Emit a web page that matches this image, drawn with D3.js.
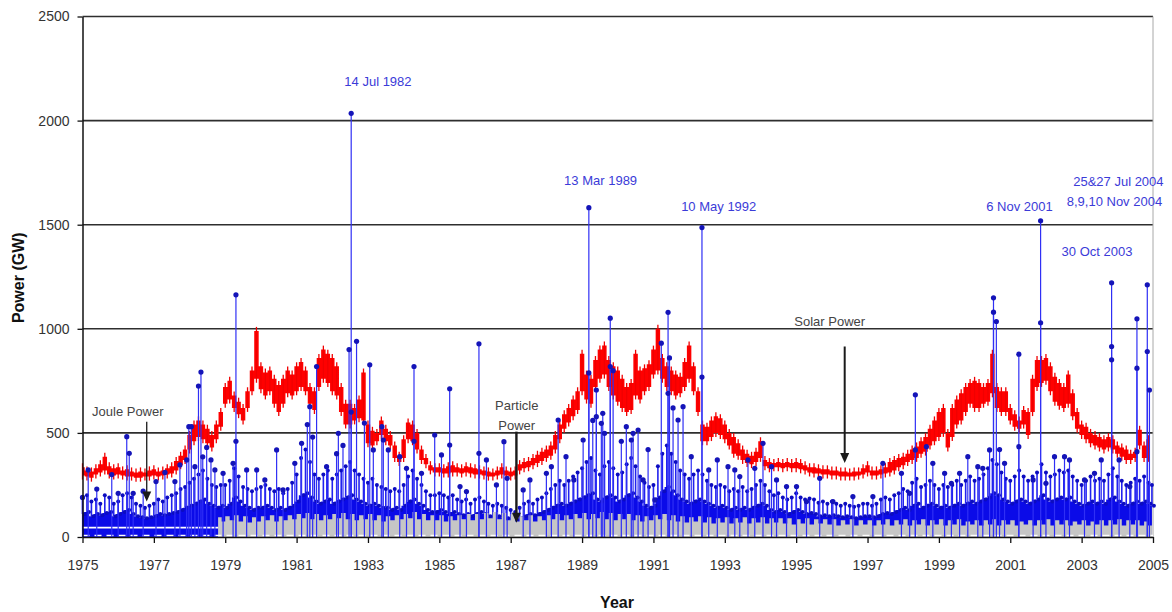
<!DOCTYPE html>
<html>
<head>
<meta charset="utf-8">
<script src="https://cdn.jsdelivr.net/npm/d3@7/dist/d3.min.js"></script>
<style>
  html, body { margin: 0; padding: 0; background: #fff; }
  svg { display: block; font-family: "Liberation Sans", Arial, sans-serif; }
</style>
</head>
<body>
<svg id="chart" width="1172" height="612"></svg>
<script>
// ---- data -------------------------------------------------------------
const yearTicks = [1975, 1977, 1979, 1981, 1983, 1985, 1987, 1989, 1991, 1993, 1995, 1997, 1999, 2001, 2003, 2005];
const powerTicks = [0, 500, 1000, 1500, 2000, 2500];

// Solar power band: [year, lower edge GW, upper edge GW]
const solarPower = [
  [1975.000,295,335],[1975.125,290,320],[1975.250,285,315],[1975.375,300,330],[1975.500,310,350],[1975.625,320,385],[1975.750,300,340],[1975.875,295,330],
  [1976.000,300,335],[1976.125,295,320],[1976.250,290,325],[1976.375,290,315],[1976.500,285,310],[1976.625,285,315],[1976.750,290,310],[1976.875,290,320],
  [1977.000,295,325],[1977.125,290,315],[1977.250,295,320],[1977.375,300,330],[1977.500,305,340],[1977.625,320,365],[1977.750,345,390],[1977.875,370,420],
  [1978.000,420,490],[1978.125,460,540],[1978.250,480,560],[1978.375,470,540],[1978.500,450,520],[1978.625,430,490],[1978.750,470,540],[1978.875,530,600],
  [1979.000,640,720],[1979.125,660,750],[1979.250,620,680],[1979.375,590,650],[1979.500,560,620],[1979.625,620,700],[1979.750,700,800],[1979.875,760,990],
  [1980.000,710,820],[1980.125,680,790],[1980.250,700,800],[1980.375,640,760],[1980.500,600,730],[1980.625,640,760],[1980.750,690,800],[1980.875,680,780],
  [1981.000,700,820],[1981.125,720,840],[1981.250,700,800],[1981.375,640,720],[1981.500,610,700],[1981.625,720,860],[1981.750,760,900],[1981.875,740,880],
  [1982.000,700,860],[1982.125,680,820],[1982.250,600,720],[1982.375,540,640],[1982.500,540,640],[1982.625,560,620],[1982.750,570,660],[1982.875,560,790],
  [1983.000,450,540],[1983.125,440,510],[1983.250,460,500],[1983.375,490,560],[1983.500,460,520],[1983.625,440,490],[1983.750,380,440],[1983.875,360,390],
  [1984.000,380,470],[1984.125,470,550],[1984.250,460,540],[1984.375,420,500],[1984.500,370,420],[1984.625,350,380],[1984.750,320,345],[1984.875,310,335],
  [1985.000,310,335],[1985.125,305,330],[1985.250,305,340],[1985.375,310,345],[1985.500,310,335],[1985.625,305,330],[1985.750,310,340],[1985.875,305,335],
  [1986.000,300,330],[1986.125,300,325],[1986.250,295,320],[1986.375,290,315],[1986.500,290,310],[1986.625,295,320],[1986.750,300,335],[1986.875,295,320],
  [1987.000,290,315],[1987.125,295,320],[1987.250,320,350],[1987.375,330,360],[1987.500,335,365],[1987.625,345,380],[1987.750,355,395],[1987.875,365,410],
  [1988.000,380,420],[1988.125,390,440],[1988.250,420,490],[1988.375,470,540],[1988.500,520,590],[1988.625,550,620],[1988.750,580,660],[1988.875,610,700],
  [1989.000,700,880],[1989.125,660,780],[1989.250,640,760],[1989.375,720,850],[1989.500,760,900],[1989.625,780,920],[1989.750,720,850],[1989.875,680,820],
  [1990.000,650,800],[1990.125,620,760],[1990.250,600,720],[1990.375,610,740],[1990.500,680,880],[1990.625,660,800],[1990.750,700,810],[1990.875,720,830],
  [1991.000,780,900],[1991.125,800,1000],[1991.250,760,860],[1991.375,720,820],[1991.500,700,800],[1991.625,680,780],[1991.750,690,770],[1991.875,720,840],
  [1992.000,760,920],[1992.125,700,820],[1992.250,600,700],[1992.375,460,540],[1992.500,460,530],[1992.625,480,560],[1992.750,500,580],[1992.875,490,570],
  [1993.000,470,540],[1993.125,440,500],[1993.250,400,480],[1993.375,390,450],[1993.500,370,420],[1993.625,355,400],[1993.750,350,390],[1993.875,360,410],
  [1994.000,380,460],[1994.125,340,370],[1994.250,330,360],[1994.375,335,355],[1994.500,335,360],[1994.625,330,355],[1994.750,335,360],[1994.875,330,355],
  [1995.000,330,360],[1995.125,325,355],[1995.250,320,345],[1995.375,310,335],[1995.500,305,335],[1995.625,305,330],[1995.750,300,325],[1995.875,300,325],
  [1996.000,295,320],[1996.125,295,320],[1996.250,290,315],[1996.375,290,315],[1996.500,290,310],[1996.625,290,315],[1996.750,295,315],[1996.875,300,330],
  [1997.000,310,345],[1997.125,295,320],[1997.250,295,320],[1997.375,300,325],[1997.500,305,335],[1997.625,310,360],[1997.750,320,370],[1997.875,335,380],
  [1998.000,345,385],[1998.125,360,400],[1998.250,370,420],[1998.375,380,435],[1998.500,400,460],[1998.625,410,480],[1998.750,440,520],[1998.875,460,560],
  [1999.000,480,600],[1999.125,500,620],[1999.250,430,500],[1999.375,480,620],[1999.500,540,660],[1999.625,560,690],[1999.750,600,720],[1999.875,640,740],
  [2000.000,620,750],[2000.125,620,740],[2000.250,640,720],[2000.375,650,740],[2000.500,690,880],[2000.625,620,720],[2000.750,600,700],[2000.875,600,700],
  [2001.000,560,620],[2001.125,530,590],[2001.250,520,560],[2001.375,540,610],[2001.500,490,600],[2001.625,600,760],[2001.750,720,850],[2001.875,740,850],
  [2002.000,750,860],[2002.125,700,820],[2002.250,650,770],[2002.375,630,740],[2002.500,620,720],[2002.625,640,780],[2002.750,580,690],[2002.875,520,600],
  [2003.000,490,540],[2003.125,470,530],[2003.250,450,500],[2003.375,440,490],[2003.500,430,480],[2003.625,420,470],[2003.750,430,480],[2003.875,420,470],
  [2004.000,400,440],[2004.125,385,430],[2004.250,370,420],[2004.375,370,400],[2004.500,380,410],[2004.625,440,515],[2004.750,380,440],[2004.875,380,470]
];

// Joule power, dense daily band: [year, solid top GW, scattered top GW]
const joulePower = [
  [1975.000,110,190],[1975.125,120,200],[1975.250,100,170],[1975.375,110,180],[1975.500,105,160],[1975.625,115,200],[1975.750,120,190],[1975.875,100,160],
  [1976.000,110,170],[1976.125,120,200],[1976.250,130,210],[1976.375,110,190],[1976.500,100,160],[1976.625,95,150],[1976.750,90,140],[1976.875,95,150],
  [1977.000,100,160],[1977.125,110,180],[1977.250,105,170],[1977.375,110,190],[1977.500,115,200],[1977.625,120,210],[1977.750,130,230],[1977.875,140,240],
  [1978.000,150,260],[1978.125,160,280],[1978.250,170,300],[1978.375,180,320],[1978.500,160,280],[1978.625,150,250],[1978.750,140,240],[1978.875,150,250],
  [1979.000,140,250],[1979.125,160,270],[1979.250,190,330],[1979.375,170,290],[1979.500,150,240],[1979.625,140,230],[1979.750,130,220],[1979.875,140,230],
  [1980.000,140,240],[1980.125,150,250],[1980.250,140,230],[1980.375,130,220],[1980.500,140,230],[1980.625,130,210],[1980.750,140,230],[1980.875,150,260],
  [1981.000,170,300],[1981.125,200,380],[1981.250,210,420],[1981.375,190,360],[1981.500,170,300],[1981.625,160,280],[1981.750,170,300],[1981.875,180,320],
  [1982.000,160,280],[1982.125,170,300],[1982.250,180,320],[1982.375,190,340],[1982.500,200,360],[1982.625,180,320],[1982.750,170,300],[1982.875,160,280],
  [1983.000,150,260],[1983.125,160,280],[1983.250,150,250],[1983.375,140,240],[1983.500,140,230],[1983.625,130,220],[1983.750,140,230],[1983.875,130,220],
  [1984.000,150,250],[1984.125,170,290],[1984.250,180,320],[1984.375,160,280],[1984.500,150,250],[1984.625,130,220],[1984.750,120,200],[1984.875,120,200],
  [1985.000,130,210],[1985.125,120,200],[1985.250,110,190],[1985.375,120,200],[1985.500,110,180],[1985.625,105,170],[1985.750,110,180],[1985.875,100,160],
  [1986.000,110,180],[1986.125,120,190],[1986.250,110,170],[1986.375,100,160],[1986.500,95,150],[1986.625,100,160],[1986.750,95,150],[1986.875,90,140],
  [1987.000,85,130],[1987.125,80,120],[1987.250,90,140],[1987.375,100,160],[1987.500,110,170],[1987.625,105,160],[1987.750,110,180],[1987.875,120,190],
  [1988.000,130,210],[1988.125,140,230],[1988.250,150,250],[1988.375,160,270],[1988.500,150,250],[1988.625,160,270],[1988.750,170,290],[1988.875,180,310],
  [1989.000,190,330],[1989.125,200,360],[1989.250,210,380],[1989.375,180,320],[1989.500,170,300],[1989.625,190,340],[1989.750,200,360],[1989.875,190,330],
  [1990.000,170,300],[1990.125,180,310],[1990.250,200,350],[1990.375,210,380],[1990.500,190,340],[1990.625,170,290],[1990.750,150,260],[1990.875,140,240],
  [1991.000,150,250],[1991.125,190,340],[1991.250,220,400],[1991.375,240,440],[1991.500,220,400],[1991.625,200,360],[1991.750,180,320],[1991.875,170,300],
  [1992.000,160,280],[1992.125,170,300],[1992.250,180,320],[1992.375,170,300],[1992.500,160,270],[1992.625,150,250],[1992.750,140,240],[1992.875,150,250],
  [1993.000,140,240],[1993.125,130,220],[1993.250,140,230],[1993.375,130,220],[1993.500,140,240],[1993.625,130,220],[1993.750,140,230],[1993.875,150,250],
  [1994.000,160,270],[1994.125,150,250],[1994.250,130,220],[1994.375,120,200],[1994.500,130,210],[1994.625,120,190],[1994.750,110,180],[1994.875,120,190],
  [1995.000,130,210],[1995.125,120,190],[1995.250,110,180],[1995.375,115,185],[1995.500,110,180],[1995.625,100,165],[1995.750,105,170],[1995.875,100,160],
  [1996.000,105,170],[1996.125,100,160],[1996.250,95,150],[1996.375,100,160],[1996.500,95,150],[1996.625,90,145],[1996.750,95,150],[1996.875,100,160],
  [1997.000,100,160],[1997.125,95,150],[1997.250,100,160],[1997.375,110,180],[1997.500,115,190],[1997.625,110,180],[1997.750,120,200],[1997.875,130,210],
  [1998.000,140,230],[1998.125,130,220],[1998.250,150,260],[1998.375,160,280],[1998.500,140,240],[1998.625,150,250],[1998.750,160,270],[1998.875,150,250],
  [1999.000,140,230],[1999.125,150,250],[1999.250,140,240],[1999.375,150,250],[1999.500,160,270],[1999.625,150,250],[1999.750,160,270],[1999.875,170,290],
  [2000.000,160,270],[2000.125,170,280],[2000.250,180,300],[2000.375,190,330],[2000.500,210,370],[2000.625,200,350],[2000.750,180,310],[2000.875,170,280],
  [2001.000,160,270],[2001.125,170,290],[2001.250,180,320],[2001.375,170,290],[2001.500,160,270],[2001.625,170,290],[2001.750,180,310],[2001.875,200,350],
  [2002.000,180,310],[2002.125,170,290],[2002.250,180,300],[2002.375,190,320],[2002.500,180,310],[2002.625,190,320],[2002.750,170,290],[2002.875,160,270],
  [2003.000,150,250],[2003.125,160,270],[2003.250,170,290],[2003.375,160,270],[2003.500,170,280],[2003.625,160,270],[2003.750,180,300],[2003.875,190,330],
  [2004.000,170,290],[2004.125,160,270],[2004.250,150,250],[2004.375,160,260],[2004.500,170,280],[2004.625,160,270],[2004.750,170,290],[2004.875,160,260],
  [2004.970,150,250]
];

// Joule power storm days drawn as stems: [year, GW]
const jouleEvents = [
  [1975.00,190],[1975.16,322],[1975.40,230],[1975.82,300],[1976.00,210],[1976.24,482],[1976.31,402],[1976.42,210],[1976.70,220],
  [1977.06,266],[1977.31,310],[1977.59,266],[1977.73,346],[1977.92,370],[1977.98,530],[1978.05,530],[1978.15,338],[1978.25,725],
  [1978.32,792],[1978.37,385],[1978.48,430],[1978.60,370],[1978.71,322],[1978.94,306],[1979.22,354],[1979.30,1163],[1979.30,460],
  [1979.60,322],[1979.88,322],[1980.11,274],[1980.44,418],[1980.62,226],[1980.95,354],[1981.14,450],[1981.30,540],[1981.37,626],
  [1981.45,480],[1981.56,819],[1981.84,338],[1982.12,400],[1982.17,498],[1982.30,440],[1982.47,900],[1982.53,2035],[1982.53,600],
  [1982.68,940],[1982.90,547],[1983.05,827],[1983.15,418],[1983.39,530],[1983.43,466],[1983.57,418],[1983.89,386],[1984.08,330],
  [1984.29,819],[1984.29,460],[1984.50,306],[1984.87,490],[1985.06,394],[1985.29,712],[1985.29,442],[1985.58,242],[1985.76,218],
  [1986.11,928],[1986.11,402],[1986.32,370],[1986.60,250],[1986.81,458],[1986.90,282],[1987.35,226],[1987.54,274],[1988.00,306],
  [1988.14,338],[1988.33,562],[1988.55,386],[1988.77,274],[1989.03,466],[1989.19,1582],[1989.19,788],[1989.30,560],[1989.40,706],
  [1989.40,578],[1989.54,546],[1989.58,594],[1989.63,498],[1989.79,1051],[1989.79,819],[1989.87,799],[1990.10,460],[1990.24,530],
  [1990.38,466],[1990.43,498],[1990.57,514],[1990.71,274],[1990.85,420],[1991.04,178],[1991.22,931],[1991.41,1079],[1991.45,860],
  [1991.41,690],[1991.55,620],[1991.69,562],[1991.83,626],[1992.06,386],[1992.36,1486],[1992.36,768],[1992.55,322],[1992.79,370],
  [1993.09,338],[1993.28,322],[1993.42,290],[1993.65,370],[1993.84,330],[1994.07,450],[1994.31,338],[1994.45,274],[1994.73,242],
  [1995.01,242],[1995.29,170],[1995.66,282],[1996.03,170],[1996.59,194],[1997.15,194],[1997.43,354],[1997.95,306],[1998.18,210],
  [1998.34,683],[1998.34,418],[1998.65,434],[1998.83,354],[1999.16,306],[1999.35,258],[1999.58,306],[1999.81,386],[2000.09,338],
  [2000.23,330],[2000.42,418],[2000.53,1149],[2000.53,1080],[2000.61,1035],[2000.70,420],[2000.84,354],[2001.24,878],[2001.24,434],
  [2001.64,274],[2001.85,1519],[2001.85,1029],[2002.00,258],[2002.24,386],[2002.52,386],[2002.66,370],[2003.08,274],[2003.36,306],
  [2003.55,370],[2003.84,1221],[2003.84,915],[2003.84,851],[2004.05,370],[2004.35,242],[2004.55,1048],[2004.55,811],[2004.55,410],
  [2004.84,1211],[2004.84,891],[2004.90,706]
];

// Particle power band (from late 1978): [year, lower top GW, upper top GW]
const particlePower = [
  [1978.80,70,95],[1979.00,75,100],[1979.25,80,105],[1979.50,75,100],[1979.75,70,95],
  [1980.00,75,100],[1980.25,80,105],[1980.50,75,100],[1980.75,80,105],
  [1981.00,85,110],[1981.25,90,115],[1981.50,85,110],[1981.75,80,105],
  [1982.00,85,110],[1982.25,90,115],[1982.50,85,110],[1982.75,80,105],
  [1983.00,85,110],[1983.25,80,105],[1983.50,75,100],[1983.75,80,105],
  [1984.00,85,110],[1984.25,90,120],[1984.50,85,110],[1984.75,80,105],
  [1985.00,80,105],[1985.25,75,100],[1985.50,80,105],[1985.75,85,110],
  [1986.00,80,110],[1986.25,85,115],[1986.50,90,120],[1986.75,85,115],
  [1987.00,80,110],[1987.25,75,100],[1987.50,80,105],[1987.75,75,100],
  [1988.00,80,105],[1988.25,85,110],[1988.50,80,105],[1988.75,85,110],
  [1989.00,90,115],[1989.25,85,110],[1989.50,90,120],[1989.75,85,115],
  [1990.00,80,110],[1990.25,85,110],[1990.50,80,105],[1990.75,75,100],
  [1991.00,80,105],[1991.25,85,110],[1991.50,80,105],[1991.75,75,100],
  [1992.00,70,95],[1992.25,75,100],[1992.50,70,95],[1992.75,65,90],
  [1993.00,70,95],[1993.25,65,90],[1993.50,70,95],[1993.75,65,90],
  [1994.00,70,95],[1994.25,65,90],[1994.50,70,90],[1994.75,65,90],
  [1995.00,60,85],[1995.25,65,90],[1995.50,60,85],[1995.75,65,85],
  [1996.00,60,85],[1996.25,55,80],[1996.50,60,85],[1996.75,55,80],
  [1997.00,60,80],[1997.25,55,80],[1997.50,60,85],[1997.75,55,80],
  [1998.00,60,85],[1998.25,55,80],[1998.50,60,85],[1998.75,55,80],
  [1999.00,60,85],[1999.25,55,80],[1999.50,60,85],[1999.75,55,75],
  [2000.00,60,80],[2000.25,55,80],[2000.50,60,85],[2000.75,55,80],
  [2001.00,60,80],[2001.25,55,75],[2001.50,60,80],[2001.75,55,80],
  [2002.00,60,85],[2002.25,55,80],[2002.50,60,80],[2002.75,55,75],
  [2003.00,60,80],[2003.25,55,75],[2003.50,60,80],[2003.75,55,80],
  [2004.00,60,85],[2004.25,55,80],[2004.50,60,80],[2004.75,55,75],[2004.97,55,75]
];

// Storm date captions, placed in data units
const stormLabels = [
  { text: "14 Jul 1982",     year: 1983.28, gw: 2189 },
  { text: "13 Mar 1989",     year: 1989.52, gw: 1713 },
  { text: "10 May 1992",     year: 1992.83, gw: 1588 },
  { text: "6 Nov 2001",      year: 2001.26, gw: 1588 },
  { text: "25&27 Jul 2004",  year: 2004.03, gw: 1708 },
  { text: "8,9,10 Nov 2004", year: 2003.92, gw: 1612 },
  { text: "30 Oct 2003",     year: 2003.43, gw: 1372 }
];

// Series captions with pointer arrows: caption lines, arrow from/to in GW
const seriesLabels = [
  { lines: ["Solar Power"],        year: 1995.94, gw: 1035, arrowYear: 1996.36, from: 915, to: 356, width: 2 },
  { lines: ["Joule Power"],        year: 1976.27, gw: 602,  arrowYear: 1976.80, from: 554, to: 170, width: 1.3 },
  { lines: ["Particle", "Power"],  year: 1987.17, gw: 630,  arrowYear: 1987.16, from: 506, to: 69,  width: 2.4 }
];

// ---- drawing ----------------------------------------------------------
const svg = d3.select("#chart");
const x = d3.scaleLinear().domain([1975, 2005]).range([82.5, 1153]);
const y = d3.scaleLinear().domain([0, 2500]).range([537, 16.5]);

const zig = rows => rows.flatMap(r => [[r[0], r[1]], [r[0], r[2]]]);

// horizontal gridlines
svg.append("g").selectAll("line")
  .data(powerTicks.filter(v => v > 0))
  .join("line")
  .attr("x1", x(1975)).attr("x2", x(2005))
  .attr("y1", d => y(d)).attr("y2", d => y(d))
  .attr("stroke", "#2e2e2e").attr("stroke-width", 1.6);

// right frame edge
svg.append("line")
  .attr("x1", x(2005)).attr("x2", x(2005))
  .attr("y1", y(2500)).attr("y2", y(0))
  .attr("stroke", "#a8a8a8").attr("stroke-width", 1);

// Joule power dense band: solid body, daily stems and their markers
svg.append("path")
  .datum(joulePower)
  .attr("d", d3.area().curve(d3.curveStep).x(d => x(d[0])).y0(y(0)).y1(d => y(d[1])))
  .attr("fill", "#0b0be8");
const band = svg.append("g");
band.selectAll("line")
  .data(joulePower)
  .join("line")
  .attr("x1", d => x(d[0])).attr("x2", d => x(d[0]))
  .attr("y1", d => y(d[1])).attr("y2", d => y(d[2]))
  .attr("stroke", "#2222ee").attr("stroke-width", 1.6);
band.selectAll("circle.hi")
  .data(joulePower)
  .join("circle")
  .attr("class", "hi")
  .attr("cx", d => x(d[0])).attr("cy", d => y(d[2])).attr("r", 2)
  .attr("fill", "#0c0cc0");
band.selectAll("circle.lo")
  .data(joulePower)
  .join("circle")
  .attr("class", "lo")
  .attr("cx", d => x(d[0]) + 2).attr("cy", d => y(d[1])).attr("r", 2)
  .attr("fill", "#0c0cc0");

// Particle power band
svg.append("path")
  .datum(zig(particlePower))
  .attr("d", d3.area().curve(d3.curveStep).x(d => x(d[0])).y0(y(0)).y1(d => y(d[1])))
  .attr("fill", "#c6c6c6");

// white trace lines near the baseline
svg.append("line")
  .attr("x1", x(1975)).attr("x2", x(1978.8))
  .attr("y1", y(45)).attr("y2", y(45))
  .attr("stroke", "#fff").attr("stroke-width", 1.8);
svg.append("line")
  .attr("x1", x(1975)).attr("x2", x(2005))
  .attr("y1", y(7)).attr("y2", y(7))
  .attr("stroke", "#fff").attr("stroke-width", 1.4)
  .attr("stroke-dasharray", "7,5");

// Solar power band
svg.append("path")
  .datum(solarPower)
  .attr("d", d3.area().curve(d3.curveStep).x(d => x(d[0])).y0(d => y(d[1])).y1(d => y(d[2])))
  .attr("fill", "#ff0000");
svg.append("g").selectAll("line")
  .data(solarPower)
  .join("line")
  .attr("x1", d => x(d[0])).attr("x2", d => x(d[0]))
  .attr("y1", d => y(d[1]) + 4).attr("y2", d => y(d[2]) - 4)
  .attr("stroke", "#f00000").attr("stroke-width", 1.3);

// Joule storm stems and markers
const ev = svg.append("g");
ev.selectAll("line")
  .data(jouleEvents)
  .join("line")
  .attr("x1", d => x(d[0])).attr("x2", d => x(d[0]))
  .attr("y1", y(0)).attr("y2", d => y(d[1]))
  .attr("stroke", "#2f2ff5").attr("stroke-width", 1.2);
ev.selectAll("circle")
  .data(jouleEvents)
  .join("circle")
  .attr("cx", d => x(d[0])).attr("cy", d => y(d[1])).attr("r", 2.6)
  .attr("fill", "#1414b8");

// axes
const xAxis = svg.append("g")
  .attr("transform", `translate(0,${y(0)})`)
  .call(d3.axisBottom(x).tickValues(yearTicks).tickFormat(d3.format("d"))
    .tickSize(6).tickSizeOuter(0).tickPadding(17));
const yAxis = svg.append("g")
  .attr("transform", `translate(${x(1975)},0)`)
  .call(d3.axisLeft(y).tickValues(powerTicks).tickFormat(d3.format("d"))
    .tickSize(5).tickSizeOuter(0).tickPadding(8));
[xAxis, yAxis].forEach(g => {
  g.select(".domain").attr("stroke", "#111").attr("stroke-width", 1.5);
  g.selectAll(".tick line").attr("stroke", "#111").attr("stroke-width", 1.3);
  g.selectAll(".tick text")
    .attr("fill", "#333")
    .style("font-size", "14px")
    .style("font-family", "'Liberation Sans', Arial, sans-serif");
});

// axis titles
svg.append("text")
  .attr("transform", `translate(18,${(y(0) + y(2500)) / 2 + 1}) rotate(-90)`)
  .attr("text-anchor", "middle").attr("dominant-baseline", "central")
  .style("font-size", "16px").style("font-weight", "bold").attr("fill", "#111")
  .text("Power (GW)");
svg.append("text")
  .attr("x", 617).attr("y", 608)
  .attr("text-anchor", "middle")
  .style("font-size", "16px").style("font-weight", "bold").attr("fill", "#111")
  .text("Year");

// storm date captions
svg.append("g").selectAll("text")
  .data(stormLabels)
  .join("text")
  .attr("x", d => x(d.year)).attr("y", d => y(d.gw))
  .attr("text-anchor", "middle").attr("dominant-baseline", "central")
  .style("font-size", "13px").attr("fill", "#3b3bd8")
  .text(d => d.text);

// series captions and arrows
seriesLabels.forEach(s => {
  const t = svg.append("text")
    .attr("text-anchor", "middle")
    .style("font-size", "13px").attr("fill", "#444");
  s.lines.forEach((ln, i) => {
    t.append("tspan")
      .attr("x", x(s.year)).attr("y", y(s.gw) + i * 20)
      .attr("dominant-baseline", "central")
      .text(ln);
  });
  const ax = x(s.arrowYear), y0 = y(s.from), y1 = y(s.to);
  const head = 10, half = 4.5;
  svg.append("line")
    .attr("x1", ax).attr("x2", ax).attr("y1", y0).attr("y2", y1 - head + 1)
    .attr("stroke", "#1a1a1a").attr("stroke-width", s.width);
  svg.append("path")
    .attr("d", `M${ax - half},${y1 - head}L${ax + half},${y1 - head}L${ax},${y1}Z`)
    .attr("fill", "#1a1a1a");
});
</script>
</body>
</html>
